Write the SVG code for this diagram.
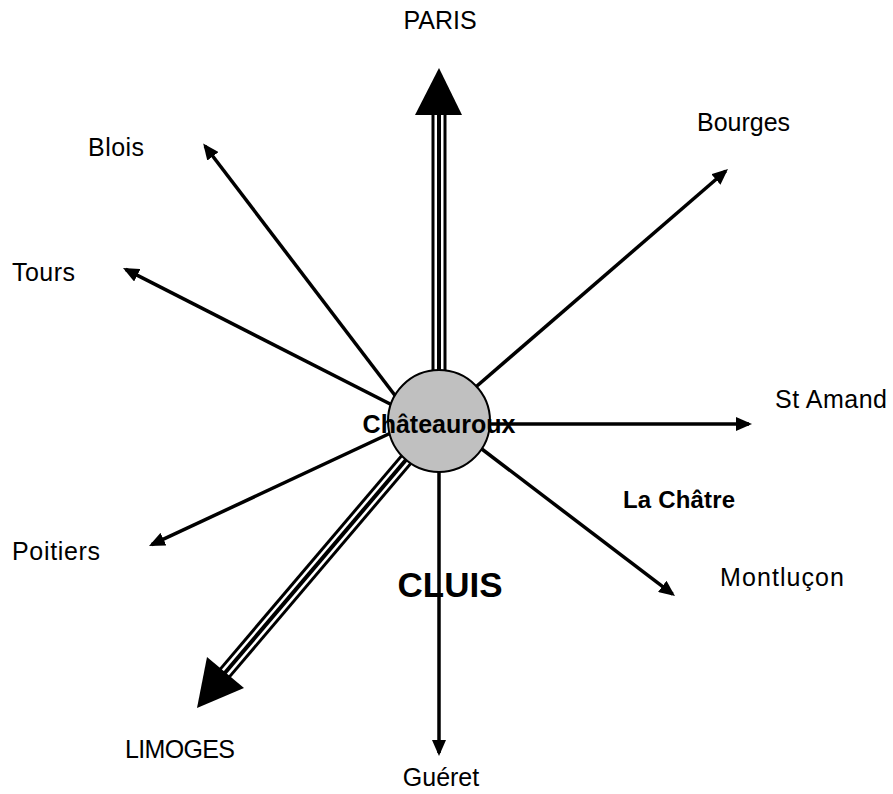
<svg xmlns="http://www.w3.org/2000/svg" width="893" height="794" viewBox="0 0 893 794">
<style>
.lbl{font-family:"Liberation Sans",Arial,sans-serif;font-size:25px;fill:#000}
.b{font-weight:bold}
.thin{stroke:#000;stroke-width:3.5;fill:none;marker-end:url(#ah)}
.tk{stroke:#000;stroke-width:15;fill:none}
.tw{stroke:#fff;stroke-width:9;fill:none}
.tc{stroke:#000;stroke-width:4;fill:none}
</style>
<defs>
<marker id="ah" markerUnits="userSpaceOnUse" viewBox="0 0 16 14" refX="13" refY="7" markerWidth="16" markerHeight="14" orient="auto">
<path d="M0,0 L16,7 L0,14 z" fill="#000"/>
</marker>
</defs>
<rect width="893" height="794" fill="#fff"/>
<g id="connectors">
<line class="thin" x1="400" y1="402" x2="205" y2="146"/>
<line class="thin" x1="400" y1="409" x2="125.7" y2="269.4"/>
<line class="thin" x1="470" y1="392" x2="725.7" y2="171"/>
<line class="thin" x1="470" y1="424" x2="749" y2="424"/>
<line class="thin" x1="470" y1="440" x2="672.6" y2="594.2"/>
<line class="thin" x1="439" y1="440" x2="439" y2="753"/>
<line class="thin" x1="410" y1="424" x2="151.7" y2="544.7"/>
<g id="paris-road">
<line class="tk" x1="439" y1="113" x2="439" y2="400"/>
<line class="tw" x1="439" y1="113" x2="439" y2="400"/>
<line class="tc" x1="439" y1="113" x2="439" y2="400"/>
<polygon points="439,68 415,115 462,115" fill="#000"/>
</g>
<g id="limoges-road">
<line class="tk" x1="439" y1="421" x2="224" y2="674"/>
<line class="tw" x1="439" y1="421" x2="224" y2="674"/>
<line class="tc" x1="439" y1="421" x2="224" y2="674"/>
<polygon points="197,708 207,657 244,688" fill="#000"/>
</g>
</g>
<g id="chateauroux">
<circle cx="439" cy="421" r="51" fill="#c0c0c0" stroke="#000" stroke-width="2"/>
<text class="lbl b" x="439" y="433" text-anchor="middle">Châteauroux</text>
</g>
<g id="paris"><text class="lbl" x="440" y="29" text-anchor="middle">PARIS</text></g>
<g id="blois"><text class="lbl" x="88" y="156" textLength="56">Blois</text></g>
<g id="bourges"><text class="lbl" x="697" y="131">Bourges</text></g>
<g id="tours"><text class="lbl" x="12" y="281" textLength="63">Tours</text></g>
<g id="stamand"><text class="lbl" x="775" y="408" textLength="112">St Amand</text></g>
<g id="lachatre"><text class="lbl b" x="623" y="508" style="font-size:24px" textLength="112">La Châtre</text></g>
<g id="poitiers"><text class="lbl" x="12" y="560" textLength="88">Poitiers</text></g>
<g id="montlucon"><text class="lbl" x="720" y="586" textLength="124">Montluçon</text></g>
<g id="cluis"><text class="lbl b" x="450" y="597" text-anchor="middle" style="font-size:35px">CLUIS</text></g>
<g id="limoges"><text class="lbl" x="125" y="758" textLength="110">LIMOGES</text></g>
<g id="gueret"><text class="lbl" x="441" y="786" text-anchor="middle">Guéret</text></g>
</svg>
